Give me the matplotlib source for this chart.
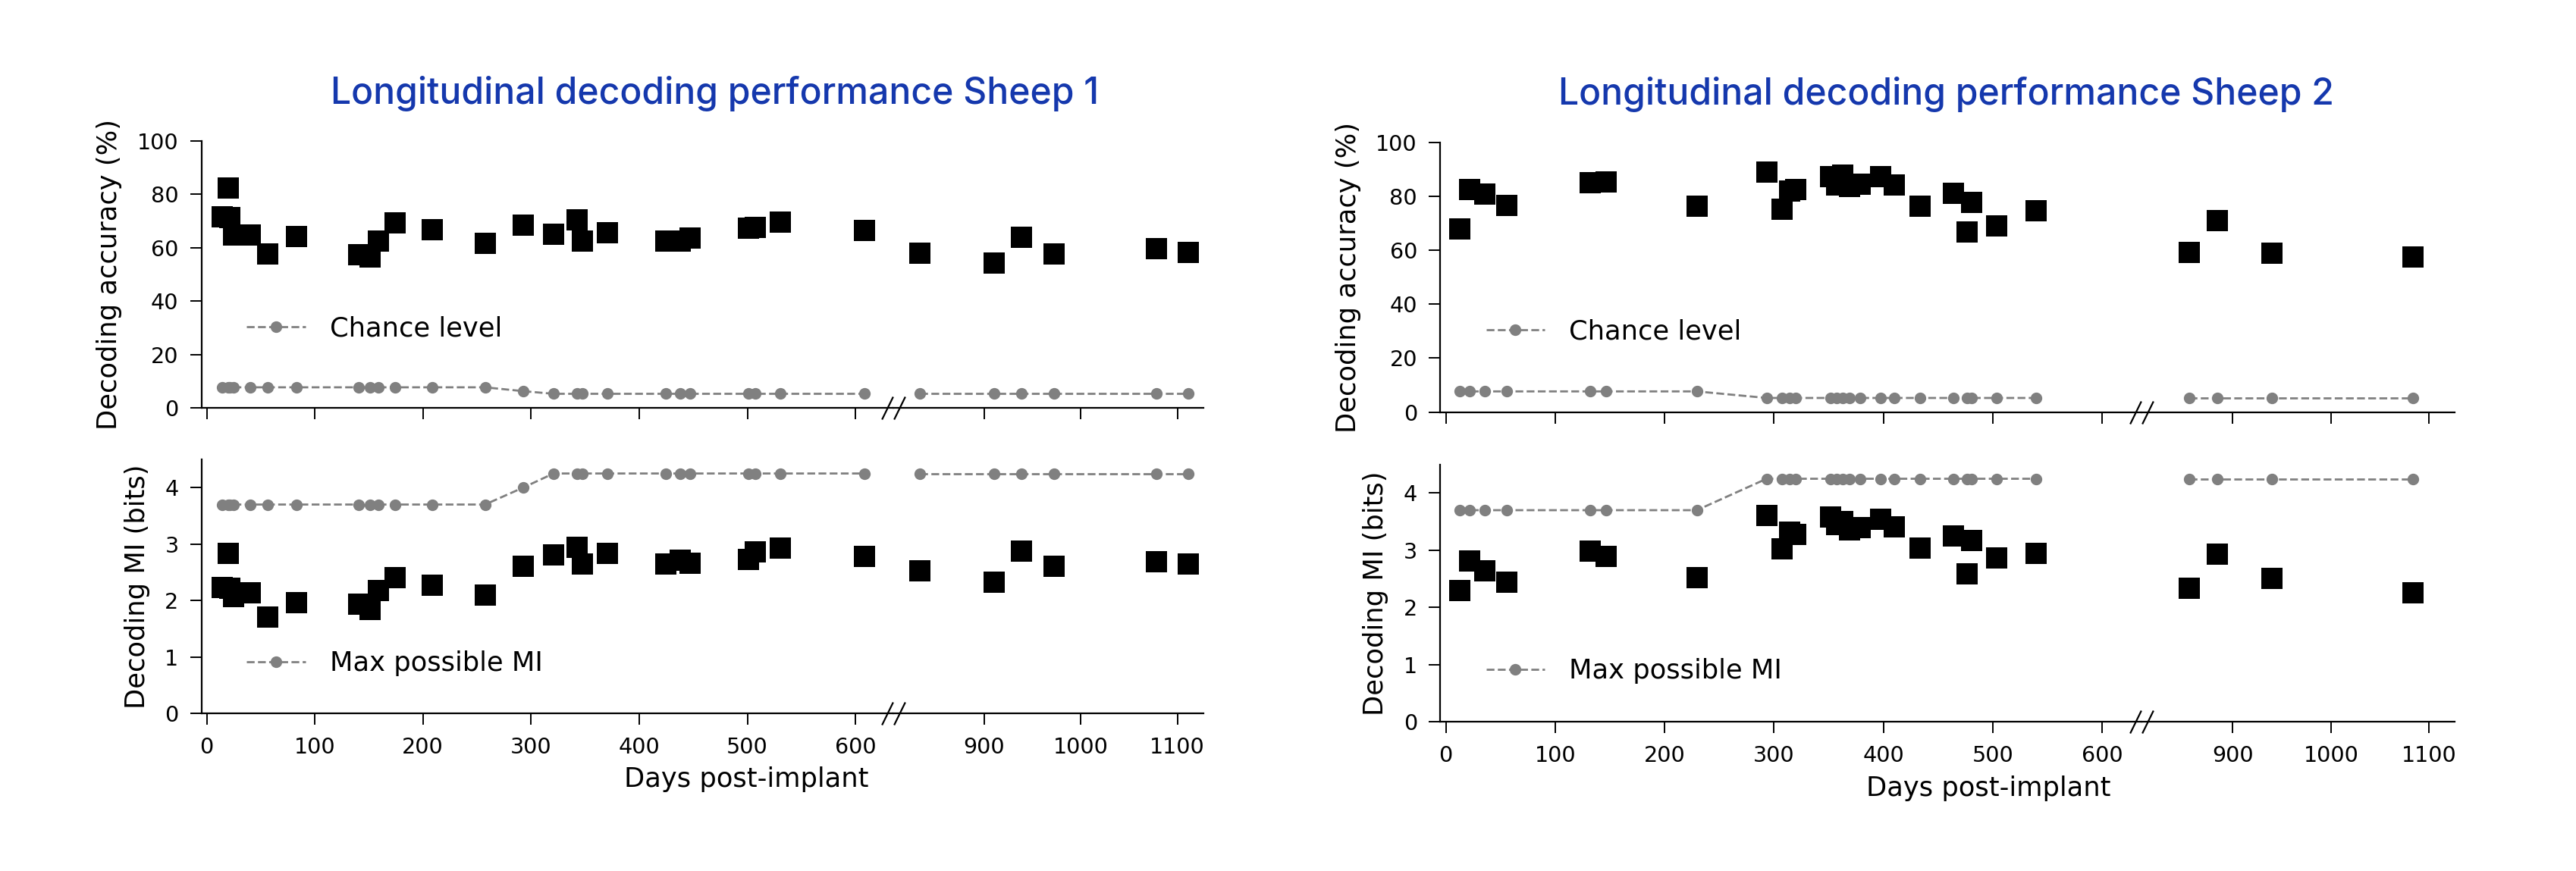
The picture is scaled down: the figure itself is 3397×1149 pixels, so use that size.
import matplotlib.pyplot as plt
import numpy as np

# ---- data: sheep 1 ----
days_s1 = [14.5, 20, 21.5, 24.7, 40.3, 56.3, 83.3, 140.3, 150.9, 158.9, 174.1, 208.7,
           257.4, 292.7, 320.8, 342.8, 347.8, 370.6, 424.7, 438, 446.7, 500.7, 507.5,
           530.7, 608.6, 833.7, 910.6, 938.6, 972.6, 1078.4, 1111.5]
acc_s1 = [71.5, 82.5, 71.3, 64.9, 64.9, 57.6, 64.1, 57.4, 56.5, 62.6, 69.3, 66.7,
          61.7, 68.4, 65.0, 70.4, 62.5, 65.6, 62.6, 62.4, 63.7, 67.4, 67.5,
          69.6, 66.4, 57.9, 54.4, 63.9, 57.7, 59.7, 58.2]
mi_s1 = [2.23, 2.83, 2.21, 2.07, 2.14, 1.71, 1.96, 1.94, 1.84, 2.17, 2.41, 2.27,
         2.10, 2.61, 2.81, 2.94, 2.65, 2.84, 2.65, 2.71, 2.66, 2.73, 2.86,
         2.93, 2.78, 2.53, 2.32, 2.87, 2.60, 2.68, 2.65]
chance_s1 = [7.69] * 13 + [6.25] + [5.26] * 17
maxmi_s1 = [3.70] * 13 + [4.00] + [4.25] * 17

# ---- data: sheep 2 ----
days_s2 = [12.7, 21.8, 36.0, 56.0, 132.2, 146.5, 229.5, 293.3, 307.6, 314.4, 320.0,
           351.9, 357.2, 362.8, 368.8, 378.6, 397.4, 410.2, 433.5, 464, 476.7, 480.5,
           503.8, 539.9, 856, 884, 940, 1083.7]
acc_s2 = [67.9, 82.6, 80.8, 76.7, 85.1, 85.4, 76.3, 89.0, 75.1, 81.9, 82.5,
          87.2, 84.3, 87.8, 83.5, 84.5, 87.3, 84.3, 76.4, 81.2, 66.9, 77.8,
          68.9, 74.5, 59.3, 71.0, 58.9, 57.4]
mi_s2 = [2.30, 2.81, 2.64, 2.44, 2.99, 2.89, 2.52, 3.61, 3.02, 3.32, 3.27,
         3.58, 3.45, 3.50, 3.36, 3.40, 3.54, 3.41, 3.04, 3.25, 2.58, 3.17,
         2.86, 2.95, 2.33, 2.93, 2.51, 2.25]
chance_s2 = [7.69] * 7 + [5.26] * 21
maxmi_s2 = [3.70] * 7 + [4.25] * 21

titles = ['Longitudinal decoding performance Sheep 1', 'Longitudinal decoding performance Sheep 2']
xticks_left = [0, 100, 200, 300, 400, 500, 600]
xticks_right = [900, 1000, 1100]
break_day = 700

W, H = 3398, 1149
DPI = 200
plt.rcParams['font.family'] = 'DejaVu Sans'
plt.rcParams['axes.linewidth'] = 0.8

fig = plt.figure(figsize=(W / DPI, H / DPI), dpi=DPI)

GRAY = '#808080'
TICK_FS = 10.3
LAB_FS = 12.7

# layout in pixels: (seg1 left, break x, seg2 right), (top row top,bottom), (bottom row top,bottom)
panels = [
    dict(x0=266, xb=1178, x1=1587, top=(186, 538), bot=(606, 941),
         xl1=(-4.6, 635), xl2=(806, 1127), title_x=943, title_y=137, xlab_x=984, xlab_y=1038,
         days=days_s1, acc=acc_s1, mi=mi_s1, chance=chance_s1, maxmi=maxmi_s1),
    dict(x0=1899.5, xb=2824, x1=3237, top=(187.7, 543.7), bot=(612.7, 952),
         xl1=(-4.9, 636), xl2=(807, 1126), title_x=2566, title_y=138, xlab_x=2622, xlab_y=1050,
         days=days_s2, acc=acc_s2, mi=mi_s2, chance=chance_s2, maxmi=maxmi_s2),
]


def style(ax, left):
    for s in ['top', 'right']:
        ax.spines[s].set_visible(False)
    ax.tick_params(direction='out', length=5.5, width=0.7, pad=5.5, labelsize=TICK_FS)
    if not left:
        ax.spines['left'].set_visible(False)
        ax.tick_params(axis='y', left=False, labelleft=False)


def break_marks(ax):
    for dx in (-0.02, 0.02):
        ax.plot([dx], [0], transform=ax.transAxes, marker=[(-0.49, -1), (0.49, 1)],
                markersize=10.8, linestyle='none', color='k', mew=0.8, clip_on=False)


for i, p in enumerate(panels):
    d = np.array(p['days'])
    lo = d < break_day
    hi = ~lo
    rows = [
        (p['top'], np.array(p['acc']), np.array(p['chance']), 'Chance level',
         (0, 100), [0, 20, 40, 60, 80, 100], 'Decoding accuracy (%)', 0.298, False),
        (p['bot'], np.array(p['mi']), np.array(p['maxmi']), 'Max possible MI',
         (0, 4.5), [0, 1, 2, 3, 4], 'Decoding MI (bits)', 0.197, True),
    ]
    for (ytop, ybot), vals, ref, lab, ylim, yticks, ylabel, legy, showx in rows:
        b = 1 - ybot / H
        h = (ybot - ytop) / H
        ax1 = fig.add_axes([p['x0'] / W, b, (p['xb'] - p['x0']) / W, h])
        ax2 = fig.add_axes([p['xb'] / W, b, (p['x1'] - p['xb']) / W, h], sharey=ax1)
        for ax, m, xl, xt in ((ax1, lo, p['xl1'], xticks_left), (ax2, hi, p['xl2'], xticks_right)):
            ax.plot(d[m], ref[m], '--', color=GRAY, lw=1.0, marker='o', ms=4.5,
                    mec=GRAY, mfc=GRAY, label=lab, zorder=2)
            ax.plot(d[m], vals[m], 's', color='k', ms=9.8, mew=0, zorder=3)
            ax.set_xlim(*xl)
            ax.set_xticks(xt)
            if not showx:
                ax.tick_params(axis='x', labelbottom=False)
        ax1.set_ylim(*ylim)
        ax1.set_yticks(yticks)
        style(ax1, True)
        style(ax2, False)
        ax1.set_ylabel(ylabel, fontsize=LAB_FS, labelpad=7)
        break_marks(ax2)
        ax1.legend(loc='center left', bbox_to_anchor=(0.065, legy), frameon=False,
                   borderpad=0, borderaxespad=0, handlelength=2.2, handletextpad=0.9,
                   fontsize=LAB_FS)
    fig.text(p['title_x'] / W, 1 - p['title_y'] / H, titles[i], ha='center', va='baseline',
             fontsize=17.3, color='#1538ad', family='Inter', weight='medium')
    fig.text(p['xlab_x'] / W, 1 - p['xlab_y'] / H, 'Days post-implant', ha='center',
             va='baseline', fontsize=LAB_FS)

fig.savefig('out.png', dpi=DPI)
